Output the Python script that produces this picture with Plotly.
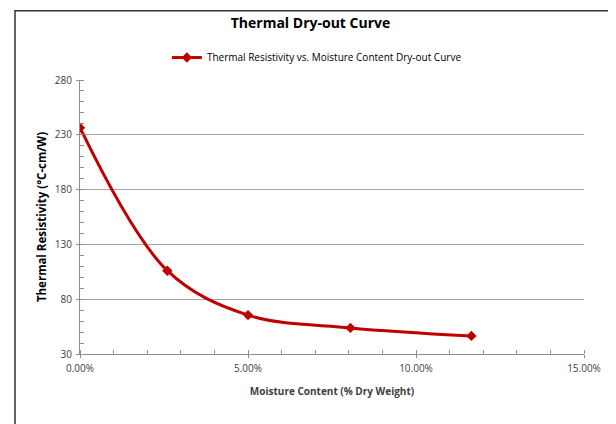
import plotly.graph_objects as go

# Data
moisture = [0.0, 0.026, 0.050, 0.0805, 0.1165]   # fraction (% dry weight)
resistivity = [236.5, 106.0, 65.5, 53.8, 46.5]   # °C-cm/W
series_name = "Thermal Resistivity vs. Moisture Content Dry-out Curve"

RED = "#C00000"
FONT = "Open Sans, Liberation Sans, sans-serif"
TXT = "#404040"

# page body has an 8px margin; layout compensates for it
L, T, PW, PH = 72, 71.5, 504, 274.5
W, H = 616, 424

fig = go.Figure()
fig.add_trace(go.Scatter(
    x=moisture, y=resistivity, name=series_name,
    mode="lines+markers",
    line=dict(color=RED, width=3, shape="spline", smoothing=1.0),
    marker=dict(symbol="diamond", size=8, color=RED),
))

fig.update_layout(
    width=W, height=H,
    margin=dict(l=L, r=W - L - PW, t=T, b=H - T - PH, autoexpand=False),
    paper_bgcolor="white", plot_bgcolor="white",
    font=dict(family=FONT, size=10, color=TXT),
    title=dict(text="<b>Thermal Dry-out Curve</b>", x=302.5 / W, xanchor="center",
               y=1 - 15 / H, yanchor="middle",
               font=dict(family=FONT, size=14, color="#000000")),
    showlegend=True,
    legend=dict(orientation="h", x=0.47, xanchor="center", y=1 + 22.5 / PH, yanchor="middle",
                font=dict(family=FONT, size=10, color="#000000"),
                itemwidth=30, bgcolor="rgba(0,0,0,0)"),
    shapes=[dict(type="rect", xref="paper", yref="paper",
                 x0=(7 - L) / PW, x1=(605 - L) / PW, y0=-0.5, y1=1 + (T - 2) / PH,
                 line=dict(color="#333333", width=1.5), fillcolor="rgba(0,0,0,0)",
                 layer="below")],
)

fig.update_xaxes(
    range=[0, 0.15], dtick=0.05, tickformat=".2%", automargin=False,
    showgrid=False, zeroline=False,
    showline=True, linecolor="#8c8c8c", linewidth=1,
    ticks="outside", ticklen=3, tickcolor="#8c8c8c", ticklabelstandoff=2,
    minor=dict(dtick=0.01, ticks="inside", ticklen=4, tickcolor="#8c8c8c", showgrid=False),
    tickfont=dict(size=10, color=TXT),
    title=dict(text="<b>Moisture Content (% Dry Weight)</b>", standoff=13,
               font=dict(family=FONT, size=10, color=TXT)),
)
fig.update_yaxes(
    range=[30, 280], tick0=30, dtick=50, automargin=False,
    showgrid=True, gridcolor="#a6a6a6", gridwidth=1, zeroline=False,
    showline=True, linecolor="#8c8c8c", linewidth=1,
    ticks="outside", ticklen=3, tickcolor="#8c8c8c", ticklabelstandoff=2,
    minor=dict(tick0=30, dtick=10, ticks="inside", ticklen=4, tickcolor="#8c8c8c", showgrid=False),
    tickfont=dict(size=10, color=TXT),
    title=dict(text="<b>Thermal Resistivity (°C-cm/W)</b>", standoff=5,
               font=dict(family=FONT, size=11.5, color="#000000")),
)

fig.write_html("out.html")
